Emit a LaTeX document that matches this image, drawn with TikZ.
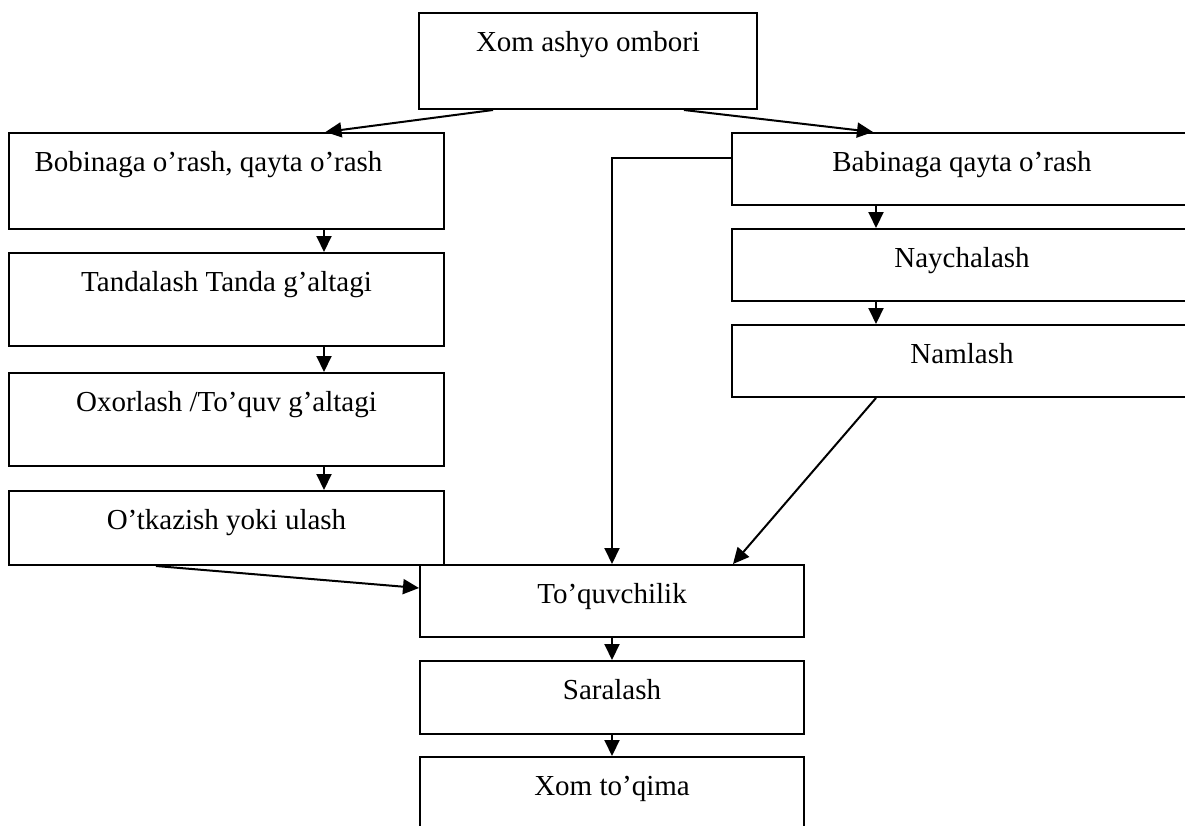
\documentclass[tikz,border=0pt]{standalone}
\usepackage{fontspec}
\setmainfont{Liberation Serif}
\usetikzlibrary{arrows.meta}

\tikzset{
  bloc/.style={draw, line width=2pt, rectangle, inner sep=0pt, anchor=north west,
    text height=38pt, font=\fontsize{29pt}{34pt}\selectfont},
  fleche/.style={line width=2pt, -{Triangle[length=16pt,width=15pt]}}
}

\begin{document}
\begin{tikzpicture}[x=1pt, y=-1pt]
			\useasboundingbox (0,0) rectangle (1185,825);
			\clip (0,0) rectangle (1185,825);
			% le stock
			\node[bloc, minimum width=338pt, text depth=58pt] (stock) at (418,12) {Xom ashyo ombori};
			% les blocs de gauche
			\node[bloc, minimum width=435pt, text depth=58pt] (bob) at (8,132) {Bobinaga o’rash, qayta o’rash\hspace*{36pt}};
			\node[bloc, minimum width=435pt, text depth=55pt] (tanda) at (8,252) {Tandalash Tanda g’altagi};
			\node[bloc, minimum width=435pt, text depth=55pt] (oxor) at (8,372) {Oxorlash /To’quv g’altagi};
			\node[bloc, minimum width=435pt, text depth=36pt] (otkaz) at (8,490) {O’tkazish yoki ulash};
			% les blocs de droite
			\node[bloc, minimum width=460pt, text depth=34pt] (babin) at (731,132) {Babinaga qayta o’rash};
			\node[bloc, minimum width=460pt, text depth=34pt] (naych) at (731,228) {Naychalash};
			\node[bloc, minimum width=460pt, text depth=34pt] (naml) at (731,324) {Namlash};
			% les blocs du bas
			\node[bloc, minimum width=384pt, text depth=34pt] (toquv) at (419,564) {To’quvchilik};
			\node[bloc, minimum width=384pt, text depth=35pt] (sara) at (419,660) {Saralash};
			\node[bloc, minimum width=384pt, text depth=62pt] (xomtq) at (419,756) {Xom to’qima};
			% les fleches
			\draw[fleche] ([xshift=-95pt]stock.south) -- ([xshift=99pt]bob.north);
			\draw[fleche] ([xshift=96pt]stock.south) -- ([xshift=-89pt]babin.north);
			\draw[fleche] ([xshift=97.5pt]bob.south) -- ([xshift=97.5pt]tanda.north);
			\draw[fleche] ([xshift=97.5pt]tanda.south) -- ([xshift=97.5pt]oxor.north);
			\draw[fleche] ([xshift=97.5pt]oxor.south) -- ([xshift=97.5pt]otkaz.north);
			\draw[fleche] ([xshift=-86pt]babin.south) -- ([xshift=-86pt]naych.north);
			\draw[fleche] ([xshift=-86pt]naych.south) -- ([xshift=-86pt]naml.north);
			\draw[fleche] ([xshift=-70.5pt]otkaz.south) -- ([yshift=13pt]toquv.west);
			\draw[fleche] ([yshift=11pt]babin.west) -| (toquv.north);
			\draw[fleche] ([xshift=-86pt]naml.south) -- ([xshift=121pt]toquv.north);
			\draw[fleche] (toquv.south) -- (sara.north);
			\draw[fleche] (sara.south) -- (xomtq.north);
		\end{tikzpicture}
\end{document}
